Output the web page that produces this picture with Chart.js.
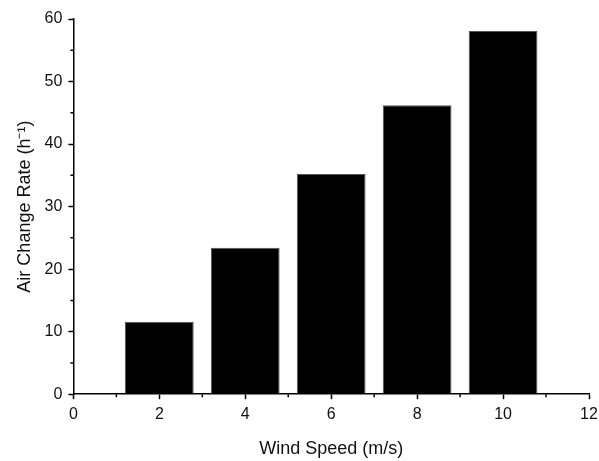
<!DOCTYPE html>
<html>
<head>
<meta charset="utf-8">
<script src="https://cdn.jsdelivr.net/npm/chart.js@4.4.1/dist/chart.umd.min.js"></script>
<style>
  html, body { margin: 0; padding: 0; background: #fff; }
  #wrap { width: 599px; height: 461px; }
</style>
</head>
<body>
<div id="wrap"><canvas id="chart"></canvas></div>
<script>
const windSpeeds = [2, 4, 6, 8, 10]
const airChangeRates = [11.6, 23.4, 35.2, 46.2, 58.1]
const xTicks = [0, 2, 4, 6, 8, 10, 12]
const yTicks = [0, 10, 20, 30, 40, 50, 60]

const family = '"Liberation Sans", Arial, sans-serif'
const tickFont = { family: family, size: 16 }
const titleFont = { family: family, size: 18 }

// Chart.js has no minor ticks, so draw them halfway between the major ones
const minorTicks = {
  id: 'minorTicks',
  afterDraw: function (chart) {
    const ctx = chart.ctx
    const xs = chart.scales.x
    const ys = chart.scales.y
    ctx.save()
    ctx.strokeStyle = '#000'
    ctx.lineWidth = 1.5
    ctx.beginPath()
    for (let i = 0; i < xTicks.length - 1; i++) {
      const px = xs.getPixelForValue((xTicks[i] + xTicks[i + 1]) / 2)
      ctx.moveTo(px, xs.top)
      ctx.lineTo(px, xs.top + 3)
    }
    for (let i = 0; i < yTicks.length - 1; i++) {
      const py = ys.getPixelForValue((yTicks[i] + yTicks[i + 1]) / 2)
      ctx.moveTo(ys.right, py)
      ctx.lineTo(ys.right - 3, py)
    }
    ctx.stroke()
    ctx.restore()
  }
}

const chart = new Chart(document.getElementById('chart'), {
  type: 'bar',
  data: {
    datasets: [
      {
        data: windSpeeds.map((x, i) => ({ x: x, y: airChangeRates[i] })),
        backgroundColor: '#000',
        borderColor: '#555',
        borderWidth: 1,
        categoryPercentage: 0.8,
        barPercentage: 1.0
      }
    ]
  },
  options: {
    responsive: true,
    maintainAspectRatio: false,
    animation: false,
    layout: { padding: { top: 19, right: 0, bottom: 0, left: 8 } },
    plugins: { legend: { display: false }, tooltip: { enabled: false } },
    scales: {
      x: {
        type: 'linear',
        min: 0,
        max: 12,
        offset: false,
        afterBuildTicks: function (scale) {
          scale.ticks = xTicks.map(v => ({ value: v }))
        },
        afterFit: function (scale) {
          scale.paddingRight = 10
        },
        grid: { offset: false, drawOnChartArea: false, drawTicks: true, tickLength: 5, tickColor: '#000', tickWidth: 1.5 },
        border: { color: '#000', width: 1.5 },
        ticks: { color: '#111', font: tickFont, padding: 6, maxRotation: 0 },
        title: {
          display: true,
          text: 'Wind Speed (m/s)',
          color: '#111',
          font: titleFont,
          padding: { top: 8, bottom: 1 }
        }
      },
      y: {
        min: 0,
        max: 60,
        afterBuildTicks: function (scale) {
          scale.ticks = yTicks.map(v => ({ value: v }))
        },
        grid: { drawOnChartArea: false, drawTicks: true, tickLength: 5, tickColor: '#000', tickWidth: 1.5 },
        border: { color: '#000', width: 1.5 },
        ticks: { color: '#111', font: tickFont, padding: 6 },
        title: {
          display: true,
          text: 'Air Change Rate (h⁻¹)',
          color: '#111',
          font: titleFont,
          padding: { top: 6, bottom: 3 }
        }
      }
    }
  },
  plugins: [minorTicks]
})
</script>
</body>
</html>
